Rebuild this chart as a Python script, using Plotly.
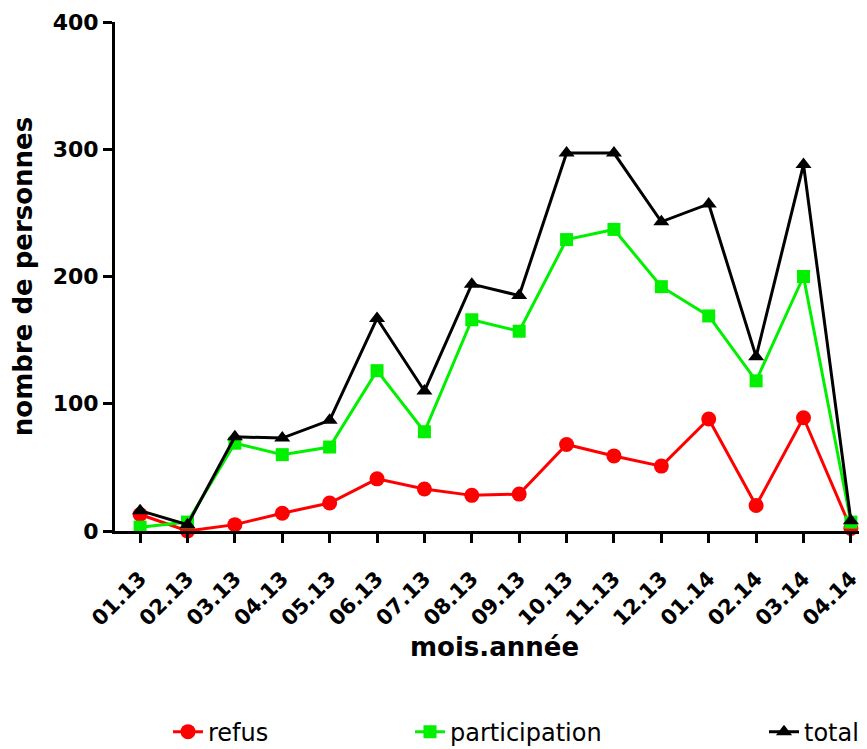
import plotly.graph_objects as go

months = ["01.13", "02.13", "03.13", "04.13", "05.13", "06.13", "07.13", "08.13",
          "09.13", "10.13", "11.13", "12.13", "01.14", "02.14", "03.14", "04.14"]
refus = [13, 0, 5, 14, 22, 41, 33, 28, 29, 68, 59, 51, 88, 20, 89, 2]
participation = [3, 7, 69, 60, 66, 126, 78, 166, 157, 229, 237, 192, 169, 118, 200, 7]
total = [16, 5, 74, 73, 87, 167, 110, 194, 185, 297, 297, 243, 257, 137, 288, 8]

x_idx = list(range(len(months)))
FONT = "DejaVu Sans, Liberation Sans, Arial, sans-serif"

fig = go.Figure()
fig.add_trace(go.Scatter(x=x_idx, y=refus, name="refus", mode="lines+markers",
                         line=dict(color="#ff0000", width=3),
                         marker=dict(symbol="circle", size=15, color="#ff0000"),
                         cliponaxis=False, legend="legend"))
fig.add_trace(go.Scatter(x=x_idx, y=participation, name="participation", mode="lines+markers",
                         line=dict(color="#00f000", width=3),
                         marker=dict(symbol="square", size=13, color="#00f000"),
                         cliponaxis=False, legend="legend2"))
fig.add_trace(go.Scatter(x=x_idx, y=total, name="total", mode="lines+markers",
                         line=dict(color="#000000", width=3),
                         marker=dict(symbol="triangle-up", size=14, color="#000000"),
                         cliponaxis=False, legend="legend3"))

# page has an 8px body offset; figure is sized to end at the window edge
OFF = 8
W0, W1 = 115, 867
Y0, Y1 = 22, 531
leg_common = dict(orientation="h", yanchor="middle", xanchor="left",
                  font=dict(family=FONT, size=24, color="black"),
                  bgcolor="rgba(0,0,0,0)")

fig.update_layout(
    width=867 - OFF, height=749 - OFF,
    margin=dict(l=W0 - OFF, r=0, t=Y0 - OFF, b=218, autoexpand=False),
    plot_bgcolor="white", paper_bgcolor="white",
    font=dict(family=FONT, color="black"),
    showlegend=True,
    legend=dict(x=(168 - W0) / (W1 - W0), y=-0.395, **leg_common),
    legend2=dict(x=(410 - W0) / (W1 - W0), y=-0.395, **leg_common),
    legend3=dict(x=(764 - W0) / (W1 - W0), y=-0.395, **leg_common),
    xaxis=dict(
        range=[-0.53, 15.34],
        tickmode="array", tickvals=x_idx, ticktext=months,
        tickangle=-45,
        tickfont=dict(family=FONT, size=21, color="black", weight="bold"),
        ticklabelstandoff=15,
        showline=True, linecolor="black", linewidth=3,
        ticks="outside", ticklen=9, tickwidth=3, tickcolor="black",
        showgrid=False, zeroline=False, automargin=False,
    ),
    yaxis=dict(
        range=[0, 400],
        tickvals=[0, 100, 200, 300, 400],
        tickfont=dict(family=FONT, size=22, color="black", weight="bold"),
        showline=True, linecolor="black", linewidth=3,
        ticks="outside", ticklen=9, tickwidth=3, tickcolor="black",
        showgrid=False, zeroline=False, automargin=False,
        title=dict(text="nombre de personnes", font=dict(family=FONT, size=26, color="black", weight="bold"),
                   standoff=16),
    ),
    annotations=[dict(
        text="mois.année", xref="paper", yref="paper",
        x=(494 - W0) / (W1 - W0), y=(Y1 - 647) / (Y1 - Y0), xanchor="center", yanchor="middle",
        showarrow=False, font=dict(family=FONT, size=26, color="black", weight="bold"),
    )],
)

fig.write_html("out.html")
